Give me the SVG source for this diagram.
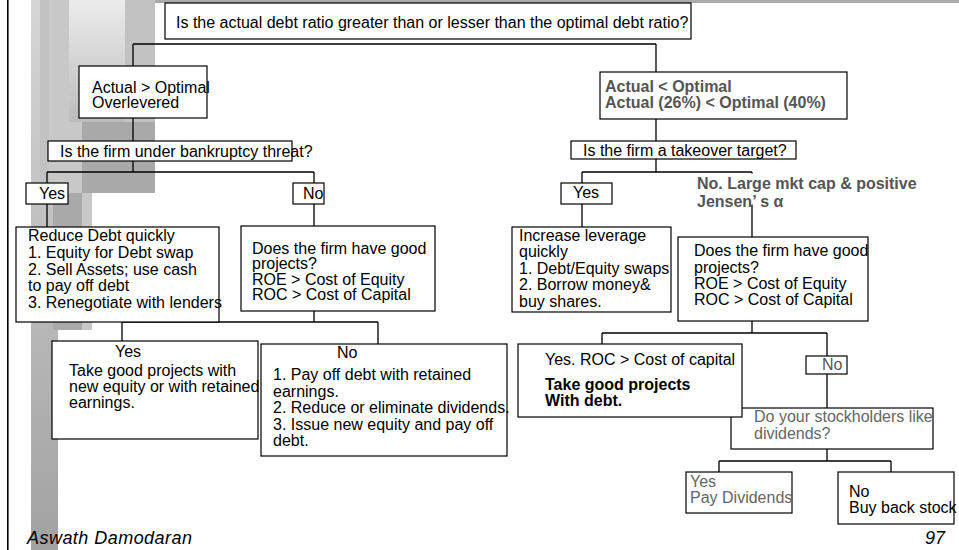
<svg xmlns="http://www.w3.org/2000/svg" width="959" height="550" viewBox="0 0 959 550">
<defs>
<linearGradient id="gStrip" x1="0" y1="0" x2="0" y2="1"><stop offset="0" stop-color="#d6d6d6"/><stop offset="1" stop-color="#a2a2a2"/></linearGradient>
<linearGradient id="gLight" x1="0" y1="0" x2="0" y2="1"><stop offset="0" stop-color="#ececec"/><stop offset="1" stop-color="#bcbcbc"/></linearGradient>
</defs>
<style>
text{font-family:"Liberation Sans",Arial,Helvetica,sans-serif;font-size:16px;fill:#000}
.box{fill:#fff;stroke:#000;stroke-width:1.2}
.ln{stroke:#000;stroke-width:1.3;fill:none}
.b{font-weight:bold}
.g{fill:#555}
.g2{fill:#666}
.it{font-style:italic;font-size:18px}
</style>
<rect width="959" height="550" fill="#fff"/>
<g id="background">
<rect x="60" y="0" width="899" height="3" fill="#aaaaaa"/>
<rect x="31" y="0" width="27" height="550" fill="url(#gStrip)"/>
<rect x="40" y="0" width="9" height="193" fill="#c2c2c2"/>
<rect x="49" y="0" width="33" height="193" fill="#c8c8c8"/>
<rect x="69" y="0" width="56" height="122" fill="url(#gLight)"/>
<rect x="125" y="0" width="30" height="193" fill="#c2c2c2"/>
<rect x="82" y="122" width="73" height="71" fill="#a9a9a9"/>
<rect x="53" y="193" width="29" height="137" fill="#a9a9a9"/>
<rect x="82" y="193" width="10" height="137" fill="#c8c8c8"/>
<rect x="7" y="0" width="1.6" height="550" fill="#000"/>
</g>
<g id="connectors" class="ln">
<path d="M133 44H656M133 44V66M656 44V72"/>
<path d="M133 118V141M133 161V172M47 172H314M47 172V183M314 172V183"/>
<path d="M47 204V227M314 204V226"/>
<path d="M314 311V322M122 322H378M122 322V341M378 322V344"/>
<path d="M656 119V141M656 159V172M582 172H752M582 172V183M752 172V237"/>
<path d="M582 204V227"/>
<path d="M752 321V333M602 333H827M602 333V344M827 333V356"/>
<path d="M827 374V408M827 449V461M719 461H891M719 461V472M891 461V472"/>
</g>
<g id="n-top"><rect class="box" x="165" y="3" width="526" height="36"/><text x="176" y="27.5">Is the actual debt ratio greater than or lesser than the optimal debt ratio?</text></g>
<g id="n-over"><rect class="box" x="79" y="66" width="128" height="52"/><text x="92" y="92.5">Actual &gt; Optimal</text><text x="92" y="108">Overlevered</text></g>
<g id="n-bank"><rect class="box" x="48" y="141" width="244" height="20"/><text x="60" y="156.5">Is the firm under bankruptcy threat?</text></g>
<g id="n-yes1"><rect class="box" x="26" y="183" width="42" height="21"/><text x="39" y="199">Yes</text></g>
<g id="n-no1"><rect class="box" x="293" y="183" width="31" height="21"/><text x="303" y="199">No</text></g>
<g id="n-reduce"><rect class="box" x="16" y="227" width="203" height="95"/>
<text x="28" y="241">Reduce Debt quickly</text><text x="28" y="258">1. Equity for Debt swap</text><text x="28" y="275">2. Sell Assets; use cash</text><text x="28" y="291">to pay off debt</text><text x="28" y="308">3. Renegotiate with lenders</text></g>
<g id="n-good1"><rect class="box" x="241" y="226" width="194" height="85"/>
<text x="252" y="253.5">Does the firm have good</text><text x="252" y="269">projects?</text><text x="252" y="284.5">ROE &gt; Cost of Equity</text><text x="252" y="300">ROC &gt; Cost of Capital</text></g>
<g id="n-yes2"><rect class="box" x="52" y="341" width="206" height="98"/>
<text x="115" y="357">Yes</text><text x="69" y="376">Take good projects with</text><text x="69" y="392">new equity or with retained</text><text x="69" y="408">earnings.</text></g>
<g id="n-no2"><rect class="box" x="261" y="344" width="246" height="112"/>
<text x="337" y="358">No</text><text x="273" y="380">1. Pay off debt with retained</text><text x="273" y="396.5">earnings.</text><text x="273" y="413">2. Reduce or eliminate dividends.</text><text x="273" y="429.5">3. Issue new equity and pay off</text><text x="273" y="446">debt.</text></g>
<g id="n-under"><rect class="box" x="600" y="72" width="247" height="47"/><text class="b g" x="605" y="92">Actual &lt; Optimal</text><text class="b g" x="605" y="107.5">Actual (26%) &lt; Optimal (40%)</text></g>
<g id="n-takeover"><rect class="box" x="571" y="141" width="225" height="18"/><text x="583" y="156">Is the firm a takeover target?</text></g>
<g id="n-yes3"><rect class="box" x="561" y="183" width="51" height="21"/><text x="573" y="197.5">Yes</text></g>
<g id="n-nolarge"><rect x="742" y="173.5" width="200" height="31" fill="#fff"/><text class="b g" x="697" y="189">No. Large mkt cap &amp; positive</text><text class="b g" x="697" y="207">Jensen’ s α</text></g>
<g id="n-increase"><rect class="box" x="512" y="227" width="159" height="85"/>
<text x="519" y="241">Increase leverage</text><text x="519" y="257">quickly</text><text x="519" y="274">1. Debt/Equity swaps</text><text x="519" y="290">2. Borrow money&amp;</text><text x="519" y="307">buy shares.</text></g>
<g id="n-good2"><rect class="box" x="678" y="237" width="190" height="84"/>
<text x="694" y="256">Does the firm have good</text><text x="694" y="272.5">projects?</text><text x="694" y="289">ROE &gt; Cost of Equity</text><text x="694" y="304.5">ROC &gt; Cost of Capital</text></g>
<g id="n-divq"><rect class="box" x="731" y="408" width="202" height="41"/><text class="g2" x="754" y="422">Do your stockholders like</text><text class="g2" x="754" y="438.5">dividends?</text></g>
<g id="n-yes4"><rect class="box" x="518" y="344" width="224" height="73"/><text x="545" y="365">Yes. ROC &gt; Cost of capital</text><text class="b" x="545" y="390">Take good projects</text><text class="b" x="545" y="406">With debt.</text></g>
<g id="n-no3"><rect class="box" x="806" y="356" width="41" height="18"/><text class="g" x="822" y="370">No</text></g>
<g id="n-pay"><rect class="box" x="686" y="472" width="106" height="41"/><text class="g2" x="690" y="487">Yes</text><text class="g2" x="690" y="503">Pay Dividends</text></g>
<g id="n-buy"><rect class="box" x="838" y="472" width="116" height="52"/><text x="849" y="497">No</text><text x="849" y="513">Buy back stock</text></g>
<g id="footer"><text class="it" x="27" y="544" textLength="165">Aswath Damodaran</text><text class="it" x="945" y="544" text-anchor="end">97</text></g>
</svg>
